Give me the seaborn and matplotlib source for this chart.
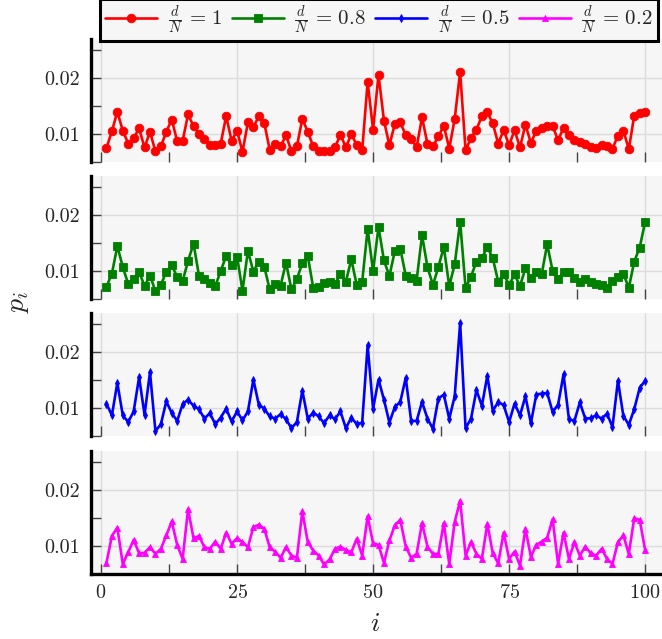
import numpy as np
import pandas as pd
import matplotlib
matplotlib.use("Agg")
import matplotlib.pyplot as plt
from matplotlib.ticker import MultipleLocator, FormatStrFormatter
import seaborn as sns

# Site index
i_vals = list(range(1, 101))

# Occupation probabilities p_i for each ratio d/N
p_d1 = [
    0.0075, 0.0105, 0.0140, 0.0106, 0.0083, 0.0093, 0.0110, 0.0076, 0.0104, 0.0069,
    0.0078, 0.0104, 0.0126, 0.0087, 0.0088, 0.0135, 0.0114, 0.0100, 0.0091, 0.0081,
    0.0080, 0.0083, 0.0132, 0.0088, 0.0106, 0.0068, 0.0121, 0.0112, 0.0132, 0.0120,
    0.0072, 0.0083, 0.0078, 0.0098, 0.0069, 0.0078, 0.0127, 0.0104, 0.0078, 0.0070,
    0.0069, 0.0069, 0.0076, 0.0099, 0.0076, 0.0100, 0.0080, 0.0071, 0.0193, 0.0108,
    0.0206, 0.0124, 0.0080, 0.0118, 0.0121, 0.0098, 0.0092, 0.0076, 0.0130, 0.0082,
    0.0078, 0.0096, 0.0115, 0.0074, 0.0127, 0.0211, 0.0071, 0.0093, 0.0108, 0.0132,
    0.0139, 0.0119, 0.0083, 0.0107, 0.0080, 0.0107, 0.0076, 0.0117, 0.0084, 0.0106,
    0.0110, 0.0115, 0.0114, 0.0089, 0.0111, 0.0098, 0.0089, 0.0085, 0.0082, 0.0076,
    0.0075, 0.0080, 0.0078, 0.0074, 0.0097, 0.0106, 0.0073, 0.0133, 0.0138, 0.0139,
]
p_d08 = [
    0.0072, 0.0095, 0.0145, 0.0107, 0.0077, 0.0086, 0.0099, 0.0073, 0.0092, 0.0064,
    0.0075, 0.0099, 0.0110, 0.0090, 0.0082, 0.0118, 0.0149, 0.0092, 0.0085, 0.0078,
    0.0073, 0.0100, 0.0127, 0.0110, 0.0126, 0.0065, 0.0136, 0.0099, 0.0117, 0.0108,
    0.0067, 0.0077, 0.0074, 0.0115, 0.0067, 0.0086, 0.0114, 0.0127, 0.0070, 0.0071,
    0.0078, 0.0081, 0.0076, 0.0095, 0.0081, 0.0121, 0.0075, 0.0081, 0.0175, 0.0100,
    0.0179, 0.0119, 0.0091, 0.0136, 0.0140, 0.0092, 0.0087, 0.0083, 0.0164, 0.0107,
    0.0075, 0.0107, 0.0143, 0.0073, 0.0112, 0.0188, 0.0070, 0.0090, 0.0117, 0.0123,
    0.0143, 0.0123, 0.0081, 0.0095, 0.0075, 0.0094, 0.0073, 0.0105, 0.0088, 0.0099,
    0.0095, 0.0148, 0.0100, 0.0085, 0.0099, 0.0099, 0.0087, 0.0080, 0.0085, 0.0081,
    0.0077, 0.0075, 0.0070, 0.0082, 0.0089, 0.0095, 0.0070, 0.0117, 0.0142, 0.0188,
]
p_d05 = [
    0.0108, 0.0087, 0.0145, 0.0087, 0.0075, 0.0094, 0.0155, 0.0088, 0.0164, 0.0059,
    0.0071, 0.0112, 0.0091, 0.0077, 0.0107, 0.0115, 0.0104, 0.0098, 0.0081, 0.0091,
    0.0071, 0.0083, 0.0099, 0.0076, 0.0094, 0.0078, 0.0094, 0.0151, 0.0106, 0.0099,
    0.0085, 0.0081, 0.0089, 0.0080, 0.0064, 0.0075, 0.0131, 0.0081, 0.0092, 0.0085,
    0.0073, 0.0087, 0.0080, 0.0094, 0.0064, 0.0083, 0.0071, 0.0074, 0.0212, 0.0099,
    0.0151, 0.0115, 0.0074, 0.0102, 0.0111, 0.0154, 0.0077, 0.0077, 0.0111, 0.0081,
    0.0063, 0.0117, 0.0124, 0.0081, 0.0121, 0.0252, 0.0064, 0.0081, 0.0132, 0.0104,
    0.0158, 0.0095, 0.0111, 0.0105, 0.0075, 0.0108, 0.0087, 0.0121, 0.0073, 0.0124,
    0.0126, 0.0127, 0.0093, 0.0106, 0.0160, 0.0080, 0.0077, 0.0110, 0.0081, 0.0082,
    0.0087, 0.0081, 0.0090, 0.0066, 0.0149, 0.0086, 0.0070, 0.0098, 0.0136, 0.0149,
]
p_d02 = [
    0.0070, 0.0118, 0.0133, 0.0068, 0.0089, 0.0111, 0.0087, 0.0088, 0.0098, 0.0086,
    0.0095, 0.0119, 0.0144, 0.0102, 0.0077, 0.0166, 0.0114, 0.0118, 0.0098, 0.0095,
    0.0108, 0.0095, 0.0124, 0.0104, 0.0114, 0.0107, 0.0098, 0.0134, 0.0138, 0.0131,
    0.0098, 0.0090, 0.0079, 0.0098, 0.0083, 0.0079, 0.0162, 0.0107, 0.0092, 0.0083,
    0.0067, 0.0076, 0.0095, 0.0099, 0.0093, 0.0089, 0.0113, 0.0083, 0.0153, 0.0105,
    0.0102, 0.0070, 0.0110, 0.0137, 0.0147, 0.0099, 0.0079, 0.0086, 0.0141, 0.0099,
    0.0086, 0.0086, 0.0141, 0.0068, 0.0143, 0.0181, 0.0083, 0.0107, 0.0086, 0.0077,
    0.0140, 0.0087, 0.0069, 0.0124, 0.0077, 0.0090, 0.0065, 0.0131, 0.0081, 0.0102,
    0.0108, 0.0115, 0.0148, 0.0068, 0.0124, 0.0077, 0.0107, 0.0083, 0.0099, 0.0087,
    0.0083, 0.0095, 0.0077, 0.0068, 0.0107, 0.0119, 0.0086, 0.0150, 0.0147, 0.0093,
]

labels = [r"$\frac{d}{N}\,=\,1$", r"$\frac{d}{N}\,=\,0.8$",
          r"$\frac{d}{N}\,=\,0.5$", r"$\frac{d}{N}\,=\,0.2$"]
series = [p_d1, p_d08, p_d05, p_d02]
colors = ["#ff0000", "#008000", "#0000ff", "#ff00ff"]
markers = ["o", "s", "d", "^"]
msizes = [6.2, 5.8, 4.2, 4.6]

x_ticks = [0, 25, 50, 75, 100]
y_ticks = [0.01, 0.02]

sns.set_style("whitegrid", {
    "axes.facecolor": "#f6f6f6",
    "grid.color": "#dcdcdc",
    "axes.edgecolor": "black",
})
plt.rcParams["font.family"] = ["cmr10", "DejaVu Serif"]
plt.rcParams["mathtext.fontset"] = "cm"
plt.rcParams["axes.formatter.use_mathtext"] = True

W, H = 662, 639
fig = plt.figure(figsize=(W / 100, H / 100), dpi=100)

left_px, right_px = 91, 662
panel_h = 123
bottoms_px = [162, 299, 436, 574]

axes = []
handles = []
for k, (vals, lab, col, mk, ms) in enumerate(zip(series, labels, colors, markers, msizes)):
    b = bottoms_px[k]
    ax = fig.add_axes([left_px / W, 1 - b / H, (right_px - left_px) / W, panel_h / H])
    df = pd.DataFrame({"i": i_vals, "p": vals})
    sns.lineplot(data=df, x="i", y="p", ax=ax, color=col, marker=mk,
                 markersize=ms, markeredgewidth=0.6, markeredgecolor=col,
                 linewidth=1.9, label=lab, legend=False)
    handles.append(ax.get_lines()[0])
    ax.set_xlim(-1.84, 103.1)
    ax.set_ylim(0.005, 0.027)
    ax.xaxis.set_major_locator(MultipleLocator(25))
    ax.xaxis.set_minor_locator(MultipleLocator(12.5))
    ax.set_yticks(y_ticks)
    ax.yaxis.set_minor_locator(MultipleLocator(0.005))
    ax.yaxis.set_major_formatter(FormatStrFormatter("%.2f"))
    ax.grid(True, which="major", color="#dcdcdc", linewidth=1.0)
    ax.grid(False, which="minor")
    ax.tick_params(axis="both", which="both", direction="in", length=7,
                   width=1.0, color="#444444", labelsize=14.5)
    ax.tick_params(axis="y", which="both", left=True, pad=8)
    ax.tick_params(axis="x", which="both", bottom=True, pad=7)
    for s in ["top", "right"]:
        ax.spines[s].set_visible(False)
    ax.spines["left"].set_linewidth(2.4)
    ax.spines["left"].set_color("black")
    ax.set_xlabel("")
    ax.set_ylabel("")
    if k < 3:
        ax.spines["bottom"].set_visible(False)
        ax.tick_params(axis="x", labelbottom=False)
    else:
        ax.spines["bottom"].set_linewidth(2.4)
        ax.spines["bottom"].set_color("black")
        ax.set_xticks(x_ticks)
    axes.append(ax)

fig.text(375 / W, 1 - 624 / H, r"$i$", fontsize=20, ha="center", va="center")
fig.text(18 / W, 1 - 302 / H, r"$p_i$", fontsize=20, ha="center", va="center",
         rotation=90)

leg = fig.legend(handles, labels, loc="center", ncol=4,
                 bbox_to_anchor=(379 / W, 1 - 20 / H),
                 fontsize=15, frameon=True, fancybox=False,
                 handlelength=2.5, handletextpad=0.5, columnspacing=0.45,
                 borderpad=0.25, borderaxespad=0.0)
leg.get_frame().set_edgecolor("black")
leg.get_frame().set_linewidth(2.2)
leg.get_frame().set_facecolor("#f6f6f6")
leg.get_frame().set_alpha(1.0)

fig.savefig("out.png", dpi=100)
